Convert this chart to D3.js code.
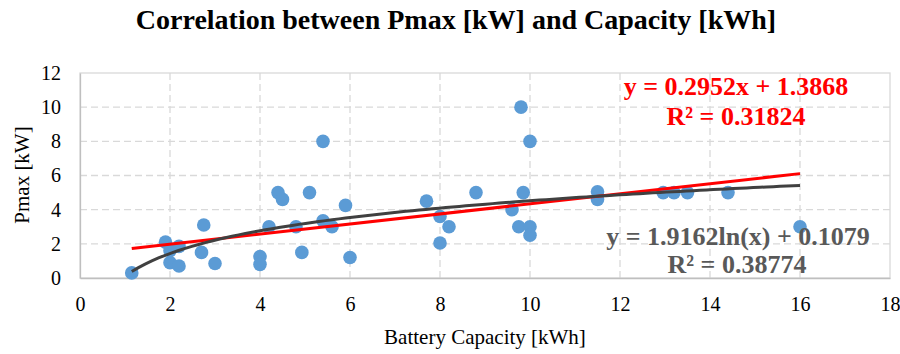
<!DOCTYPE html>
<html>
<head>
<meta charset="utf-8">
<script src="https://cdn.jsdelivr.net/npm/d3@7/dist/d3.min.js"></script>
<style>
  html, body { margin: 0; padding: 0; background: #ffffff; }
  svg { display: block; }
</style>
</head>
<body>
<svg id="chart" width="900" height="354"></svg>
<script>
// Battery capacity [kWh] and peak power [kW] of each system
const capacity = [1.15, 1.9, 2.0, 2.2, 2.0, 2.2, 2.75, 2.7, 3.0, 4.0, 4.0,
  4.4, 4.5, 5.1, 4.2, 4.8, 4.93, 5.4, 5.6, 5.9, 6.0, 5.4,
  7.7, 8.0, 8.2, 8.0, 8.8, 9.6, 9.85, 9.75, 10.0, 10.0, 9.8, 10.0,
  11.5, 11.5, 12.96, 13.2, 13.5, 14.4, 16.0];
const pmax = [0.3, 2.1, 1.6, 1.85, 0.9, 0.7, 3.1, 1.5, 0.85, 1.25, 0.8,
  5.0, 4.6, 5.0, 3.0, 3.0, 1.5, 3.35, 3.0, 4.25, 1.2, 8.0,
  4.5, 3.6, 3.0, 2.05, 5.0, 4.0, 5.0, 3.0, 3.0, 2.5, 10.0, 8.0,
  5.05, 4.6, 5.0, 5.0, 5.0, 5.0, 3.0];

// Trendline coefficients
const linearFit = [0.2952, 1.3868];   // y = a*x + b
const linearR2 = 0.31824;
const logFit = [1.9162, 0.1079];      // y = a*ln(x) + b
const logR2 = 0.38774;

const xTicks = [0, 2, 4, 6, 8, 10, 12, 14, 16, 18];
const yTicks = [0, 2, 4, 6, 8, 10, 12];

const svg = d3.select("#chart");
const plotL = 80, plotR = 890, plotT = 73, plotB = 278;
const serif = "'Liberation Serif', 'Times New Roman', serif";

const x = d3.scaleLinear().domain([0, 18]).range([plotL, plotR]);
const y = d3.scaleLinear().domain([0, 12]).range([plotB, plotT]);

// Gridlines (dashed)
const grid = svg.append("g");
grid.selectAll("line.vx").data(xTicks.filter(d => d > 0 && d < 18)).join("line")
  .attr("x1", d => x(d)).attr("x2", d => x(d))
  .attr("y1", plotT).attr("y2", plotB)
  .attr("stroke", "#d9d9d9").attr("stroke-width", 1.3).attr("stroke-dasharray", "7,4");
grid.selectAll("line.hy").data(yTicks.filter(d => d > 0 && d < 12)).join("line")
  .attr("x1", plotL).attr("x2", plotR)
  .attr("y1", d => y(d)).attr("y2", d => y(d))
  .attr("stroke", "#d9d9d9").attr("stroke-width", 1.3).attr("stroke-dasharray", "7,4");

// Plot area frame
svg.append("rect")
  .attr("x", plotL).attr("y", plotT).attr("width", plotR - plotL).attr("height", plotB - plotT)
  .attr("fill", "none").attr("stroke", "#d9d9d9").attr("stroke-width", 1.3);

// Axes
const xAxis = svg.append("g").attr("transform", `translate(0,${plotB})`)
  .call(d3.axisBottom(x).tickValues(xTicks).tickSize(0));
const yAxis = svg.append("g").attr("transform", `translate(${plotL},0)`)
  .call(d3.axisLeft(y).tickValues(yTicks).tickSize(0).tickPadding(19));
[xAxis, yAxis].forEach(a => {
  a.select(".domain").attr("stroke", "#bfbfbf").attr("stroke-width", 1.3);
  a.selectAll("text").attr("font-family", serif).attr("font-size", 20).attr("fill", "#000");
});
xAxis.selectAll("text").attr("y", 33).attr("dy", 0);

// Data points
svg.append("g").selectAll("circle").data(capacity).join("circle")
  .attr("cx", (d, i) => x(d))
  .attr("cy", (d, i) => y(pmax[i]))
  .attr("r", 6.8)
  .attr("fill", "#5b9bd5");

// Trendlines over the data range
const xmin = d3.min(capacity), xmax = d3.max(capacity);
const samples = d3.range(0, 101).map(i => xmin + (xmax - xmin) * i / 100);
const line = d3.line().x(d => x(d[0])).y(d => y(d[1]));

svg.append("path")
  .datum([xmin, xmax].map(v => [v, linearFit[0] * v + linearFit[1]]))
  .attr("d", line).attr("fill", "none")
  .attr("stroke", "#ff0000").attr("stroke-width", 3);

svg.append("path")
  .datum(samples.map(v => [v, logFit[0] * Math.log(v) + logFit[1]]))
  .attr("d", line).attr("fill", "none")
  .attr("stroke", "#404040").attr("stroke-width", 3);

// Trendline equations
const eq = svg.append("g").attr("font-family", serif).attr("font-weight", "bold")
  .attr("font-size", 26).attr("text-anchor", "middle");
eq.append("text").attr("x", 736).attr("y", 95).attr("fill", "#ff0000")
  .text(`y = ${linearFit[0]}x + ${linearFit[1]}`);
eq.append("text").attr("x", 736).attr("y", 125).attr("fill", "#ff0000")
  .text(`R² = ${linearR2}`);
eq.append("text").attr("x", 738).attr("y", 245).attr("fill", "#595959")
  .text(`y = ${logFit[0]}ln(x) + ${logFit[1]}`);
eq.append("text").attr("x", 737).attr("y", 273).attr("fill", "#595959")
  .text(`R² = ${logR2}`);

// Titles
svg.append("text").attr("x", 456).attr("y", 29).attr("text-anchor", "middle")
  .attr("font-family", serif).attr("font-weight", "bold").attr("font-size", 28)
  .text("Correlation between Pmax [kW] and Capacity [kWh]");
svg.append("text").attr("x", 485).attr("y", 344).attr("text-anchor", "middle")
  .attr("font-family", serif).attr("font-size", 21)
  .text("Battery Capacity [kWh]");
svg.append("text").attr("transform", "translate(29,175) rotate(-90)")
  .attr("text-anchor", "middle")
  .attr("font-family", serif).attr("font-size", 21)
  .text("Pmax [kW]");
</script>
</body>
</html>
